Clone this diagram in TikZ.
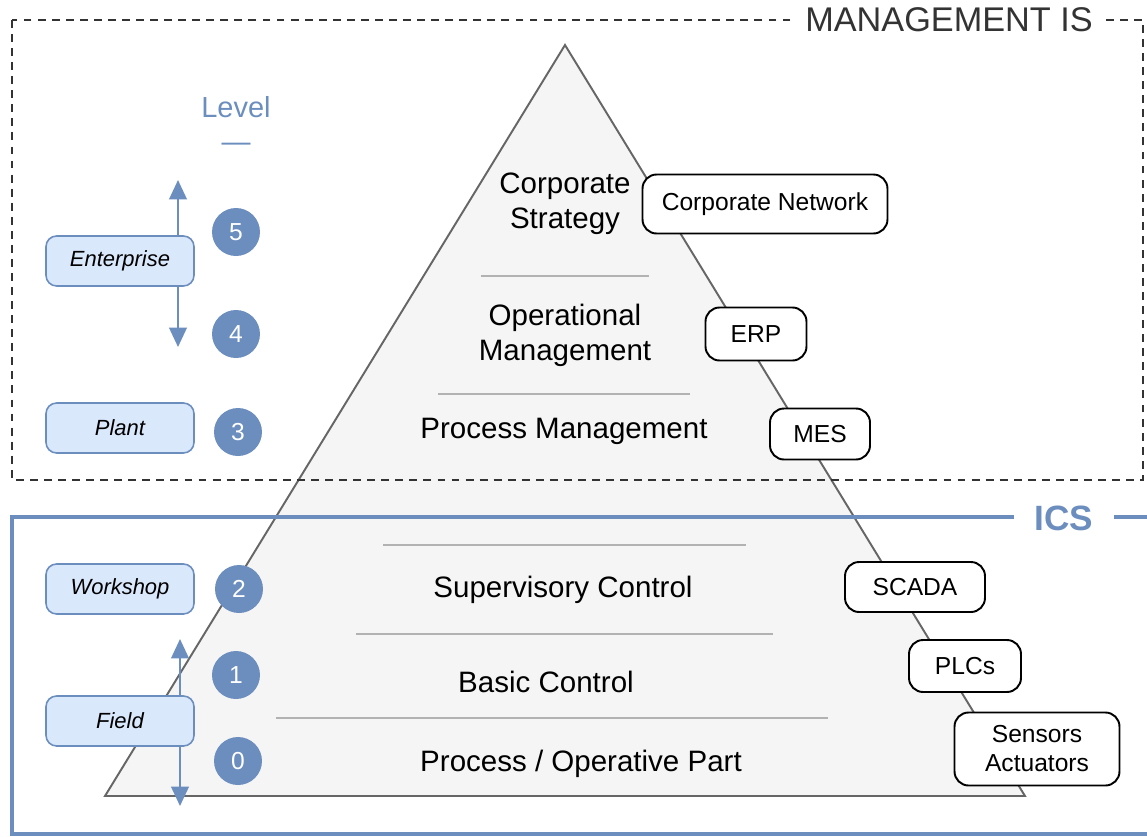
\documentclass[tikz,border=0pt]{standalone}
\usepackage{fontspec}
\setmainfont{Liberation Sans}
\usetikzlibrary{arrows.meta}
\definecolor{icsblue}{HTML}{6C8EBF}
\definecolor{levelfill}{HTML}{DAE8FC}
\definecolor{pyrfill}{HTML}{F5F5F5}
\definecolor{pyrline}{HTML}{666666}
\definecolor{mgmtgray}{HTML}{333333}

\begin{document}
\begin{tikzpicture}[
    x=0.02cm, y=-0.02cm,
    layer/.style={font=\fontsize{16.8}{20}\selectfont, align=center, inner sep=0pt},
    system/.style={draw, line width=1.1pt, rounded corners=8pt, fill=white, align=center,
      font=\fontsize{14}{16.5}\selectfont, inner sep=0pt},
    levelbox/.style={draw=icsblue, fill=levelfill, line width=0.9pt, rounded corners=6pt,
      minimum width=2.96cm, minimum height=1cm, font=\itshape\fontsize{12.5}{15}\selectfont},
    levelnum/.style={circle, fill=icsblue, text=white, minimum size=0.96cm, inner sep=0pt,
      font=\fontsize{14}{16}\selectfont},
    divider/.style={draw=black!30, line width=0.9pt},
    levelarrow/.style={draw=icsblue, line width=1.2pt, -{Triangle[length=11pt,width=10pt]}}
  ]
  \useasboundingbox (0,0) rectangle (1147,836);

  \draw[pyrline, fill=pyrfill, line width=1.1pt, line join=miter] (565,45) -- (1025,796) -- (105,796) -- cycle;

  \draw[mgmtgray, line width=1pt, dash pattern=on 4.5pt off 3.5pt] (12,20) rectangle (1143,480);
  \node[fill=white, text=mgmtgray, inner xsep=6pt, font=\fontsize{19.5}{22}\selectfont] (mgmt) at (949,20) {MANAGEMENT IS};

  \draw[icsblue, line width=2.2pt] (12,517) rectangle (1160,834);
  \node[fill=white, text=icsblue, inner xsep=12pt, font=\bfseries\fontsize{20}{22}\selectfont] (ics) at (1064,518) {ICS};

  \draw[divider] (481,276) -- (649,276);
  \draw[divider] (438,394) -- (690,394);
  \draw[divider] (383,545) -- (746,545);
  \draw[divider] (356,634) -- (773,634);
  \draw[divider] (276,718) -- (828,718);

  \node[layer] (strategy) at (565,204) {Corporate\\Strategy};
  \node[layer] (operational) at (565,335) {Operational\\Management};
  \node[layer] (process) at (564,431) {Process Management};
  \node[layer] (supervisory) at (563,590) {Supervisory Control};
  \node[layer] (basic) at (546,682) {Basic Control};
  \node[layer] (operative) at (581,764) {Process / Operative Part};

  \node[system, minimum width=4.9cm, minimum height=1.18cm] (corpnet) at (765,204) {Corporate Network};
  \node[system, minimum width=2.02cm, minimum height=1.06cm] (erp) at (756,334) {ERP};
  \node[system, minimum width=2cm, minimum height=1.02cm] (mes) at (820,434) {MES};
  \node[system, minimum width=2.8cm, minimum height=1cm] (scada) at (915,587) {SCADA};
  \node[system, minimum width=2.24cm, minimum height=1.04cm] (plcs) at (965,666) {PLCs};
  \node[system, minimum width=3.3cm, minimum height=1.46cm] (sensors) at (1037,749) {Sensors\\Actuators};

  \node[text=icsblue, align=center, font=\fontsize{16.5}{19}\selectfont] (level) at (236,124) {Level\\—};

  \node[levelnum] (n5) at (236,232) {5};
  \node[levelnum] (n4) at (236,334) {4};
  \node[levelnum] (n3) at (238,432) {3};
  \node[levelnum] (n2) at (239,589) {2};
  \node[levelnum] (n1) at (236,675) {1};
  \node[levelnum] (n0) at (238,761) {0};

  \node[levelbox] (enterprise) at (120,261) {Enterprise};
  \node[levelbox] (plant) at (120,428) {Plant};
  \node[levelbox] (workshop) at (120,589) {Workshop};
  \node[levelbox] (field) at (120,721) {Field};

  \coordinate (ent-up) at (178,180);
  \coordinate (ent-down) at (178,347);
  \coordinate (field-up) at (180,639);
  \coordinate (field-down) at (180,806);
  \draw[levelarrow] (enterprise.north -| ent-up) -- (ent-up);
  \draw[levelarrow] (enterprise.south -| ent-down) -- (ent-down);
  \draw[levelarrow] (field.north -| field-up) -- (field-up);
  \draw[levelarrow] (field.south -| field-down) -- (field-down);

\end{tikzpicture}
\end{document}
